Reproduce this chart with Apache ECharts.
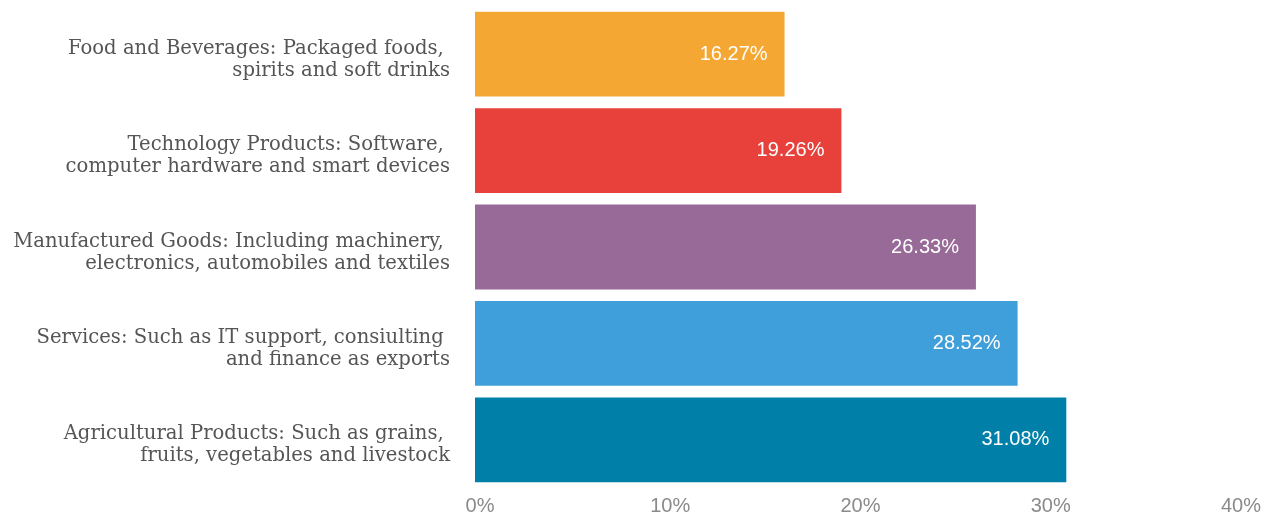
<!DOCTYPE html>
<html>
<head>
<meta charset="utf-8">
<style>
  html, body { margin: 0; padding: 0; background: #ffffff; }
  #chart { width: 1274px; height: 518px; }
</style>
<script src="https://cdn.jsdelivr.net/npm/echarts@6/dist/echarts.min.js"></script>
</head>
<body>
<div id="chart"></div>
<script>
// Export categories, top to bottom
const categories = [
  'Food and Beverages: Packaged foods, \nspirits and soft drinks',
  'Technology Products: Software, \ncomputer hardware and smart devices',
  'Manufactured Goods: Including machinery, \nelectronics, automobiles and textiles',
  'Services: Such as IT support, consiulting \nand finance as exports',
  'Agricultural Products: Such as grains, \nfruits, vegetables and livestock'
];
// Share of exports, percent
const shares = [16.27, 19.26, 26.33, 28.52, 31.08];
const barColors = ['#f5a733', '#e8413b', '#986a98', '#3e9fda', '#0080a8'];
// Value axis ticks
const axisMin = 0;
const axisMax = 40;
const axisStep = 10;

const chart = echarts.init(document.getElementById('chart'));
chart.setOption({
  animation: false,
  grid: { left: 475, right: 38, top: 6, bottom: 30, containLabel: false },
  xAxis: {
    type: 'value',
    min: axisMin,
    max: axisMax,
    interval: axisStep,
    axisLine: { show: false },
    axisTick: { show: false },
    splitLine: { show: false },
    axisLabel: {
      formatter: '{value}%',
      color: '#8a8a8a',
      fontFamily: '"Liberation Sans", Arial, sans-serif',
      fontSize: 20,
      margin: 8,
      padding: [0, 0, 0, 10]
    }
  },
  yAxis: {
    type: 'category',
    inverse: true,
    data: categories,
    axisLine: { show: false },
    axisTick: { show: false },
    axisLabel: {
      color: '#555555',
      fontFamily: '"DejaVu Serif", serif',
      fontSize: 19.6,
      lineHeight: 22,
      align: 'right',
      margin: 25,
      // a short spacer line nudges the two-line label slightly below the band centre
      formatter: v => '{gap| }\n' + v,
      rich: {
        gap: { fontSize: 4, lineHeight: 11 }
      }
    }
  },
  series: [{
    type: 'bar',
    data: shares.map((v, i) => ({ value: v, itemStyle: { color: barColors[i] } })),
    barCategoryGap: '12%',
    label: {
      show: true,
      position: 'insideRight',
      distance: 17,
      color: '#ffffff',
      fontFamily: '"Liberation Sans", Arial, sans-serif',
      fontSize: 20,
      formatter: p => p.value.toFixed(2) + '%'
    }
  }]
});
</script>
</body>
</html>
